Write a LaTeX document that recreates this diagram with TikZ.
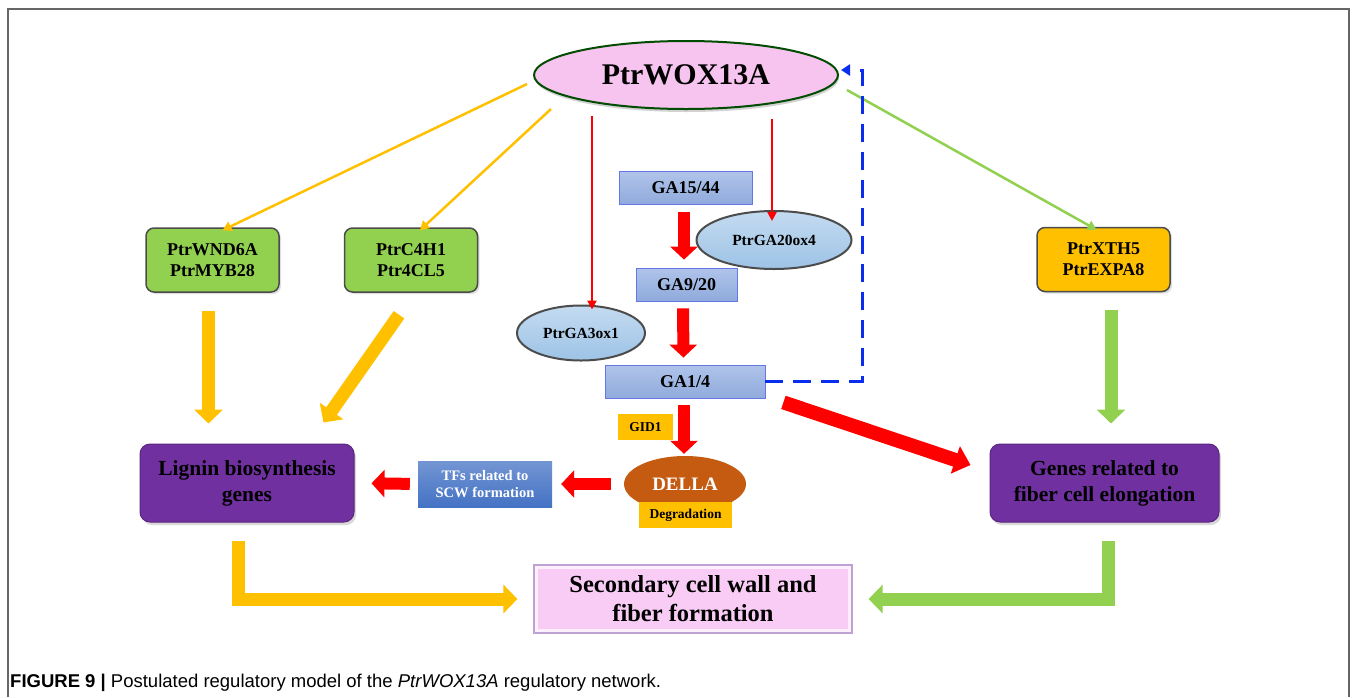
\documentclass[tikz,border=0pt]{standalone}
\usepackage{fontspec}
\setmainfont{Liberation Serif}
\newfontfamily\capfont{Liberation Sans}
\usetikzlibrary{shapes.geometric,arrows.meta,shadows,calc}
\definecolor{cyel}{HTML}{FFC000}
\definecolor{cgrn}{HTML}{92D050}
\definecolor{cred}{HTML}{FF0000}
\definecolor{cblu}{HTML}{0A2EF0}
\definecolor{cga}{HTML}{8FAADC}
\definecolor{cgatop}{HTML}{B0C4EA}
\definecolor{cpur}{HTML}{7030A0}
\definecolor{cpink}{HTML}{F8CCF4}
\definecolor{cwox}{HTML}{F7C4F0}
\definecolor{cbrn}{HTML}{C55A11}
\definecolor{ctf}{HTML}{4472C4}
\definecolor{cell}{HTML}{9DC3E6}
\tikzset{
  fs/.style n args={2}{font=\fontsize{#1}{#2}\selectfont\bfseries},
  gbox/.style={rounded corners=8pt, draw=black!70, line width=1.5pt, fill=cgrn, minimum width=133pt, minimum height=64pt, align=center, inner sep=0pt, fs={18}{21}, drop shadow={opacity=0.25,shadow xshift=2pt,shadow yshift=-2pt}},
  pbox/.style={rounded corners=10pt, draw=cpur!80!black, line width=1pt, fill=cpur, minimum width=214pt, minimum height=78pt, align=center, inner sep=0pt, fs={21.5}{26}, drop shadow={opacity=0.3,shadow xshift=2pt,shadow yshift=-3pt}},
  gabox/.style={draw=cga!70!blue, line width=0.8pt, top color=cgatop, bottom color=cga, minimum height=33pt, inner sep=0pt, fs={18}{21}},
  bell/.style={ellipse, draw=black!70, line width=2pt, top color=cell!60!white, bottom color=cell, inner sep=0pt, fs={15.5}{18}},
  ybox/.style={fill=cyel, inner sep=0pt, fs={13.5}{16}},
  yarr/.style={draw=cyel, line width=2.5pt, -{Triangle[width=10pt,length=9pt]}},
  garr/.style={draw=cgrn, line width=2.5pt, -{Triangle[width=10pt,length=9pt]}},
  rarr/.style={draw=cred, line width=2.5pt, -{Triangle[width=9pt,length=9pt]}},
  rthick/.style={draw=cred, line width=12pt, -{Triangle[width=27pt,length=13pt]}},
  ythick/.style={draw=cyel, line width=13pt, line join=miter, -{Triangle[width=28pt,length=14pt]}},
  gthick/.style={draw=cgrn, line width=13pt, line join=miter, -{Triangle[width=28pt,length=14pt]}},
}
\begin{document}
\begin{tikzpicture}[x=1pt,y=-1pt]
\useasboundingbox (0,0) rectangle (1357,697);
\fill[white] (0,0) rectangle (1357,697);
\draw[black!60, line width=1.5pt] (8,697) -- (8,9) -- (1349,9) -- (1349,697);

% main nodes
\node[ellipse, draw=green!30!black, line width=2pt, fill=cwox, minimum width=304pt, minimum height=68pt, inner sep=0pt, fs={30}{34}, drop shadow={opacity=0.35,shadow xshift=1pt,shadow yshift=-3pt}] (wox) at (686,75) {PtrWOX13A};

\node[gbox] (wnd) at (212.5,260) {PtrWND6A\\PtrMYB28};
\node[gbox] (c4h) at (411,260) {PtrC4H1\\Ptr4CL5};
\node[gbox, fill=cyel] (xth) at (1103.5,259.5) {PtrXTH5\\PtrEXPA8};

\node[gabox, minimum width=133pt] (ga15) at (685.5,188) {GA15/44};
\node[bell, minimum width=155pt, minimum height=58pt] (ga20) at (774,240) {PtrGA20ox4};
\node[gabox, minimum width=101pt] (ga9) at (686.5,284.5) {GA9/20};
\node[bell, minimum width=128pt, minimum height=55pt] (ga3) at (581,333) {PtrGA3ox1};
\node[gabox, minimum width=160pt] (ga14) at (685,381.5) {GA1/4};

\node[ybox, minimum width=55pt, minimum height=26pt] (gid) at (645.5,427) {GID1};
\node[ellipse, fill=cbrn, text=white, minimum width=122pt, minimum height=56pt, inner sep=0pt, fs={19}{22}] (della) at (685,484) {DELLA};
\node[ybox, minimum width=93pt, minimum height=26pt] (deg) at (685.5,515) {Degradation};

\node[top color=ctf!75!white, bottom color=ctf, text=white, minimum width=134pt, minimum height=46pt, inner sep=0pt, align=center, fs={14.5}{17}] (tf) at (485,484) {TFs related to\\SCW formation};

\node[pbox] (lig) at (247,483) {Lignin biosynthesis\\genes};
\node[pbox, minimum width=229pt] (genes) at (1104.5,483) {Genes related to\\fiber cell elongation};

\node[draw=cpur!45!white, line width=1.2pt, fill=cpink, minimum width=318pt, minimum height=68pt, inner sep=0pt, align=center, fs={24.5}{29}] (scw) at (693,599) {Secondary cell wall and\\fiber formation};
\draw[white!70!cpink, line width=3pt] ([shift={(3pt,-3pt)}]scw.north west) rectangle ([shift={(-3pt,3pt)}]scw.south east);

% thin arrows from PtrWOX13A
\coordinate (y1s) at (527,84);
\coordinate (y2s) at (551,109);
\coordinate (g1s) at (847,90);
\draw[yarr] (y1s) -- ([shift={(10pt,-3pt)}]wnd.north);
\draw[yarr] (y2s) -- ([shift={(9pt,-3pt)}]c4h.north);
\draw[garr] (g1s) -- ([shift={(-7pt,-3pt)}]xth.north);
\draw[rarr] ([shift={(-94pt,-6pt)}]wox.south) -- ([shift={(11pt,-5pt)}]ga3.north);
\draw[rarr] ([shift={(86pt,-9pt)}]wox.south) -- ([shift={(-2pt,-11pt)}]ga20.north);

% blue dashed feedback
\coordinate (ret) at (862,70);
\draw[cblu, line width=3pt, dash pattern=on 18pt off 10pt, -{Triangle[width=11pt,length=9pt]}] (ga14.east) -| (ret) -- ([shift={(2pt,5pt)}]wox.east);

% thick red arrows
\draw[rthick, shorten <=7pt, shorten >=8pt] ([xshift=-1.5pt]ga15.south) -- ([xshift=-2.5pt]ga9.north);
\draw[rthick, shorten <=7pt, shorten >=7pt] ([xshift=-3.5pt]ga9.south) -- ([xshift=-1.5pt]ga14.north);
\draw[rthick, shorten <=7pt, shorten >=2pt] ([xshift=-1pt]ga14.south) -- ([xshift=-1pt]della.north);
\draw[rthick, shorten <=13pt, shorten >=9pt] (della.west) -- (tf.east);
\draw[rthick, shorten <=8pt, shorten >=17pt] (tf.west) -- (lig.east);
\draw[draw=cred, line width=14pt, -{Triangle[width=28pt,length=16pt]}] ([shift={(18pt,-4pt)}]ga14.south east) -- ([shift={(-19pt,18pt)}]genes.west);

% thick yellow / green arrows
\draw[ythick, shorten <=18pt, shorten >=20pt] ([xshift=-4pt]wnd.south) -- ([xshift=-38.5pt]lig.north);
\draw[ythick] ([shift={(-12pt,-22pt)}]c4h.south) -- ([shift={(-31pt,21pt)}]lig.north east);
\draw[gthick, shorten <=18pt, shorten >=20pt] ([xshift=7.5pt]xth.south) -- ([xshift=6.5pt]genes.north);
\draw[ythick, shorten >=16pt] ([shift={(-9pt,-18pt)}]lig.south) |- (scw.west);
\draw[gthick, shorten >=16pt] ([shift={(3.5pt,-18pt)}]genes.south) |- (scw.east);

% caption
\node[anchor=base west, inner sep=0pt, font=\capfont\fontsize{18.5}{21}\selectfont] (cap) at (10,687) {\textbf{FIGURE 9 |} Postulated regulatory model of the \textit{PtrWOX13A} regulatory network.};
\end{tikzpicture}
\end{document}
